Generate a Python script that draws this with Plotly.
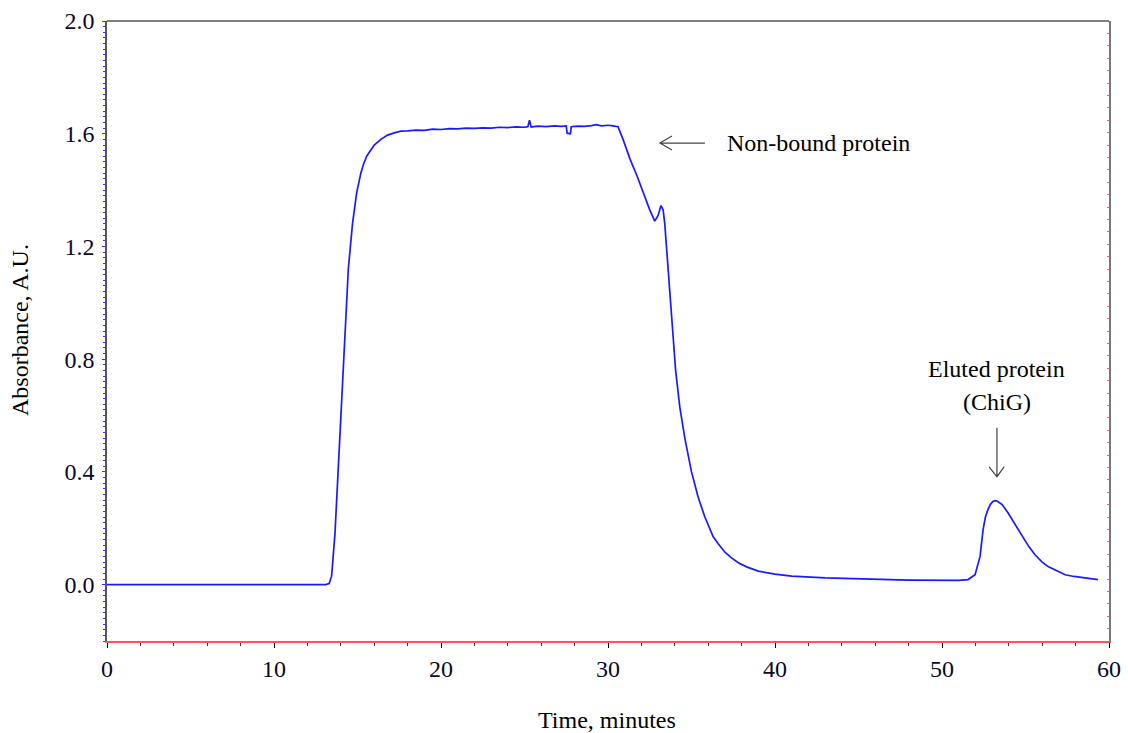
import plotly.graph_objects as go

# Chromatogram trace (time in minutes, absorbance in A.U.)
time_min = [0, 5, 10, 13.1, 13.3, 13.45, 13.65, 13.85, 14.05, 14.25, 14.45, 14.7, 14.95, 15.2,
            15.35, 15.55, 15.75, 16.0, 16.4, 16.8, 17.2, 17.6, 18.0, 18.5, 19.0, 19.5, 20.0,
            20.5, 21.0, 21.5, 22.0, 22.5, 23.0, 23.5, 24.0, 24.5, 25.0,
            25.2, 25.3, 25.4, 25.8, 26.3, 26.8, 27.2, 27.5, 27.55, 27.75, 27.8, 28.2, 28.6,
            29.0, 29.3, 29.6, 30.0, 30.3,
            30.6, 30.9, 31.32, 31.74, 32.1, 32.5, 32.8, 33.0, 33.17, 33.3, 33.4, 33.5, 33.68,
            33.85, 34.05, 34.3, 34.6, 35.0, 35.4, 35.8, 36.0, 36.3, 36.6, 37.0, 37.4, 37.8,
            38.3, 39.0, 40.0, 41.0, 43.0, 45.0, 48.0, 51.0, 51.56, 51.98, 52.28, 52.46, 52.6,
            52.75, 52.9, 53.05, 53.17, 53.3, 53.45, 53.6, 53.95, 54.3, 54.8, 55.2, 55.57, 56.0,
            56.35, 56.8, 57.37, 57.9, 58.38, 59.34]
absorbance = [0.0, 0.0, 0.0, 0.0, 0.004, 0.03, 0.18, 0.42, 0.66, 0.92, 1.12, 1.28, 1.39, 1.46,
              1.49, 1.52, 1.54, 1.56, 1.58, 1.595, 1.603, 1.609, 1.610, 1.613, 1.612, 1.616, 1.615,
              1.618, 1.617, 1.620, 1.619, 1.621, 1.620, 1.623, 1.622, 1.624, 1.623,
              1.625, 1.648, 1.624, 1.627, 1.625, 1.628, 1.626, 1.628, 1.602, 1.600, 1.625, 1.627,
              1.626, 1.629, 1.632, 1.628, 1.630, 1.628,
              1.625, 1.58, 1.51, 1.45, 1.39, 1.33, 1.29, 1.31, 1.345, 1.33, 1.28, 1.20, 1.08,
              0.92, 0.76, 0.63, 0.52, 0.40, 0.31, 0.24, 0.21, 0.17, 0.145, 0.115, 0.095, 0.078,
              0.063, 0.048, 0.037, 0.03, 0.024, 0.02, 0.016, 0.015, 0.018, 0.035, 0.10, 0.195,
              0.24, 0.266, 0.285, 0.295, 0.298, 0.297, 0.292, 0.284, 0.255, 0.222, 0.17, 0.135,
              0.106, 0.08, 0.064, 0.05, 0.035, 0.029, 0.025, 0.018]

x_ticks = [0, 10, 20, 30, 40, 50, 60]
y_ticks = [0.0, 0.4, 0.8, 1.2, 1.6, 2.0]
y_tick_labels = ["0.0", "0.4", "0.8", "1.2", "1.6", "2.0"]

FONT = "Liberation Serif"

fig = go.Figure()
fig.add_trace(go.Scatter(x=time_min, y=absorbance, mode="lines",
                         line=dict(color="#1a1aff", width=1.7), showlegend=False,
                         hoverinfo="skip"))
# invisible trace to activate the right-hand axis
fig.add_trace(go.Scatter(x=[0], y=[0], yaxis="y2", mode="lines", showlegend=False,
                         line=dict(width=0), hoverinfo="skip"))

fig.update_layout(
    width=1128, height=733,
    margin=dict(l=107, r=19, t=21, b=92),
    paper_bgcolor="white", plot_bgcolor="white",
    font=dict(family=FONT, size=24, color="black"),
    xaxis=dict(range=[0, 60], tickvals=x_ticks, ticks="outside", ticklen=5, tickcolor="black",
               tickwidth=1, showgrid=False, zeroline=False, showline=True, linecolor="#ff5555",
               linewidth=1.5, ticklabelstandoff=0, automargin=False,
               tickfont=dict(family=FONT, size=24, color="#0a0a1e"),
               minor=dict(dtick=2, ticks="outside", ticklen=3, tickcolor="#333333", showgrid=False)),
    yaxis=dict(range=[-0.2, 2.0], tickvals=y_ticks, ticktext=y_tick_labels, ticks="outside",
               ticklen=3, tickcolor="#3333ff", tickwidth=1, showgrid=False, zeroline=False,
               showline=True, linecolor="#555555", linewidth=1.5, ticklabelstandoff=3,
               automargin=False,
               tickfont=dict(family=FONT, size=24, color="#0a0a1e"),
               minor=dict(tick0=0, dtick=0.02, ticks="outside", ticklen=2, tickcolor="#3333ff",
                          showgrid=False)),
    yaxis2=dict(range=[-0.2, 2.0], overlaying="y", side="right", showticklabels=False,
                tick0=-0.2, dtick=0.044, ticks="inside", ticklen=2, tickcolor="#ff6666",
                showgrid=False, zeroline=False, showline=True, linecolor="#777777", linewidth=1.5,
                automargin=False),
)

# top frame line
fig.add_shape(type="line", xref="paper", yref="paper", x0=0, x1=1, y0=1, y1=1,
              line=dict(color="#555555", width=1.5))

# axis titles
fig.add_annotation(text="Time, minutes", xref="paper", yref="paper", x=0.499, y=-0.127,
                   xanchor="center", yanchor="middle", showarrow=False,
                   font=dict(family=FONT, size=24, color="black"))
fig.add_annotation(text="Absorbance, A.U.", xref="paper", yref="paper", x=-0.0868, y=0.5016,
                   xanchor="center", yanchor="middle", textangle=-90, showarrow=False,
                   font=dict(family=FONT, size=24, color="black"))

# labels
fig.add_annotation(text="Non-bound protein", x=37.0, y=1.567, xanchor="left", yanchor="middle",
                   showarrow=False, font=dict(family=FONT, size=24, color="black"))
fig.add_annotation(text="Eluted protein", x=53.29, y=0.766, xanchor="center", yanchor="middle",
                   showarrow=False, font=dict(family=FONT, size=24, color="black"))
fig.add_annotation(text="(ChiG)", x=53.29, y=0.648, xanchor="center", yanchor="middle",
                   showarrow=False, font=dict(family=FONT, size=24, color="black"))

# arrows (open line arrowheads)
arrow_color = "#444444"
fig.add_shape(type="path", path="M 35.8,1.567 L 33.11,1.567 M 33.83,1.592 L 33.11,1.567 L 33.83,1.542",
              line=dict(color=arrow_color, width=1.2))
fig.add_shape(type="path", path="M 53.29,0.557 L 53.29,0.383 M 52.82,0.418 L 53.29,0.383 L 53.72,0.418",
              line=dict(color=arrow_color, width=1.2))

fig.write_html("out.html")
